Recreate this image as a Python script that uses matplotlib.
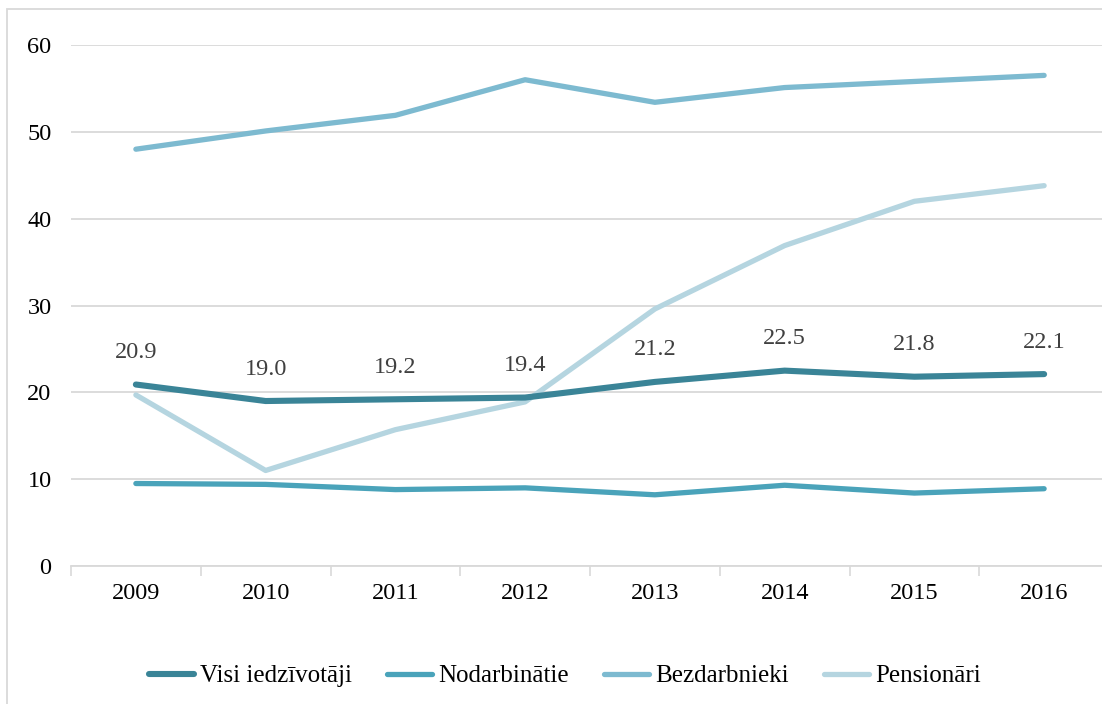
import matplotlib

matplotlib.use("Agg")
import matplotlib.pyplot as plt
from matplotlib.patches import Rectangle

YEARS = ["2009", "2010", "2011", "2012", "2013", "2014", "2015", "2016"]
VISI = [20.9, 19.0, 19.2, 19.4, 21.2, 22.5, 21.8, 22.1]
NODARBINATIE = [9.5, 9.4, 8.8, 9.0, 8.2, 9.3, 8.4, 8.9]
BEZDARBNIEKI = [48.0, 50.1, 51.9, 56.0, 53.4, 55.1, 55.8, 56.5]
PENSIONARI = [19.7, 11.0, 15.7, 18.9, 29.6, 36.9, 42.0, 43.8]
VISI_LABELS = ["20.9", "19.0", "19.2", "19.4", "21.2", "22.5", "21.8", "22.1"]

SERIES = [
    ("Visi iedzīvotāji", VISI, "#3A8497", 4.4),
    ("Nodarbinātie", NODARBINATIE, "#4AA3BA", 3.8),
    ("Bezdarbnieki", BEZDARBNIEKI, "#7DBAD0", 3.8),
    ("Pensionāri", PENSIONARI, "#B5D5E0", 3.8),
]

plt.rcParams["font.family"] = ["Liberation Serif", "DejaVu Serif"]

W, H = 1102, 704
fig = plt.figure(figsize=(W / 100, H / 100), dpi=100)
ax = fig.add_axes([71 / W, 1 - 566 / H, (1109 - 71) / W, (566 - 45) / H])

x = list(range(len(YEARS)))
handles = []
for name, values, color, lw in SERIES[::-1]:
    (line,) = ax.plot(x, values, color=color, lw=lw, solid_capstyle="round",
                      solid_joinstyle="round", label=name)
    handles.append(line)
handles = handles[::-1]

for xi, val, txt in zip(x, VISI, VISI_LABELS):
    ax.annotate(txt, (xi, val), xytext=(0, 23), textcoords="offset points",
                ha="center", va="center", fontsize=17.5, color="#404040")

ax.set_xlim(-0.5, len(YEARS) - 0.5)
ax.set_ylim(0, 60)
ax.set_yticks([0, 10, 20, 30, 40, 50, 60])
ax.set_xticks(x)
ax.set_xticklabels(YEARS)
ax.set_xticks([i - 0.5 for i in range(len(YEARS) + 1)], minor=True)
ax.tick_params(axis="x", which="major", length=0, pad=12, labelsize=17.5)
ax.tick_params(axis="x", which="minor", length=7, width=1.2, color="#D9D9D9")
ax.tick_params(axis="y", length=0, pad=14, labelsize=17.5)
ax.grid(axis="y", color="#D9D9D9", lw=1.3)
ax.set_axisbelow(True)
for side in ("top", "right", "left"):
    ax.spines[side].set_visible(False)
ax.spines["bottom"].set_color("#D9D9D9")
ax.spines["bottom"].set_linewidth(1.3)

fig.legend(handles, [s[0] for s in SERIES], loc="center",
           bbox_to_anchor=(565 / W, 1 - 676 / H), ncol=4, frameon=False,
           fontsize=18, handlelength=1.8, handletextpad=0.25, columnspacing=1.4)

fig.patches.append(Rectangle((7 / W, -0.1), 1.2, 1.1 - 9 / H, transform=fig.transFigure,
                             fill=False, edgecolor="#D9D9D9", lw=1.3))

fig.savefig("out.png", dpi=100)
